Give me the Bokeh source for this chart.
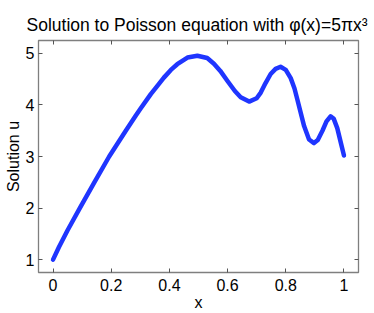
from bokeh.plotting import figure
from bokeh.models import FixedTicker, LinearAxis, Range1d
from bokeh.embed import file_html
from bokeh.resources import INLINE

# Data
x_vals = [0.0, 0.02, 0.05, 0.092, 0.14, 0.193, 0.25, 0.284, 0.301, 0.336, 0.36, 0.381,
          0.405, 0.427, 0.462, 0.496, 0.53, 0.553, 0.575, 0.599, 0.625, 0.645, 0.674,
          0.70, 0.714, 0.73, 0.748, 0.765, 0.782, 0.80, 0.817, 0.830, 0.840, 0.863,
          0.880, 0.897, 0.91, 0.926, 0.94, 0.954, 0.965, 0.977, 0.99, 1.0]
u_vals = [1.0, 1.24, 1.57, 2.0, 2.48, 3.0, 3.50, 3.79, 3.93, 4.21, 4.38, 4.53,
          4.68, 4.79, 4.92, 4.955, 4.91, 4.80, 4.66, 4.47, 4.27, 4.15, 4.065,
          4.13, 4.24, 4.42, 4.60, 4.70, 4.74, 4.68, 4.52, 4.32, 4.10, 3.59,
          3.33, 3.26, 3.32, 3.50, 3.68, 3.78, 3.73, 3.55, 3.25, 3.02]

x_ticks = [0, 0.2, 0.4, 0.6, 0.8, 1]
x_tick_labels = ["0", "0.2", "0.4", "0.6", "0.8", "1"]
y_ticks = [1, 2, 3, 4, 5]
y_tick_labels = ["1", "2", "3", "4", "5"]

title_text = "Solution to Poisson equation with \u03c6(x)=5\u03c0x\u00b3"
FONT = "Liberation Sans"
GRAY = "#7f7f7f"

W, H = 374, 313
p = figure(width=W, height=H, output_backend="svg", toolbar_location=None,
           x_range=Range1d(-0.05, 1.05), y_range=Range1d(0.75, 5.25),
           x_axis_label="x", y_axis_label="Solution u", title=title_text)
bottom = p.xaxis[0]
left = p.yaxis[0]

p.min_border_left = 38
p.min_border_right = W - 358
p.min_border_top = 40
p.min_border_bottom = H - 272

p.title.align = "left"
p.title.offset = -12
p.title.text_font = FONT
p.title.text_font_size = "17.5px"
p.title.text_font_style = "normal"
p.title.text_color = "black"
p.title.standoff = 11

p.grid.visible = False
p.outline_line_color = GRAY
p.outline_line_width = 1.3
p.background_fill_color = "white"
p.border_fill_color = "white"

top = LinearAxis()
right = LinearAxis()
p.add_layout(top, "above")
p.add_layout(right, "right")

for ax, ticks, labels in [(bottom, x_ticks, x_tick_labels),
                          (left, y_ticks, y_tick_labels),
                          (top, x_ticks, x_tick_labels),
                          (right, y_ticks, y_tick_labels)]:
    ax.ticker = FixedTicker(ticks=ticks, minor_ticks=[])
    ax.major_label_overrides = {t: l for t, l in zip(ticks, labels)}
    ax.axis_line_color = None
    ax.major_tick_in = 4
    ax.major_tick_out = 0
    ax.major_tick_line_color = "#555555"
    ax.minor_tick_line_color = None
    ax.major_label_text_font = FONT
    ax.major_label_text_font_size = "16px"
    ax.major_label_text_color = "black"
    ax.axis_label_text_font = FONT
    ax.axis_label_text_font_size = "16px"
    ax.axis_label_text_font_style = "normal"
    ax.axis_label_text_color = "black"

for ax in (top, right):
    ax.major_label_text_font_size = "0px"
    ax.major_label_text_alpha = 0
    ax.major_label_standoff = 0
    ax.axis_label = None

bottom.major_label_standoff = 6
bottom.axis_label_standoff = 0
left.major_label_standoff = 4
left.axis_label_standoff = 1

p.line(x_vals, u_vals, line_color="#1f35ff", line_width=4.5,
       line_cap="round", line_join="round")

open("out.html", "w").write(file_html(p, INLINE))
